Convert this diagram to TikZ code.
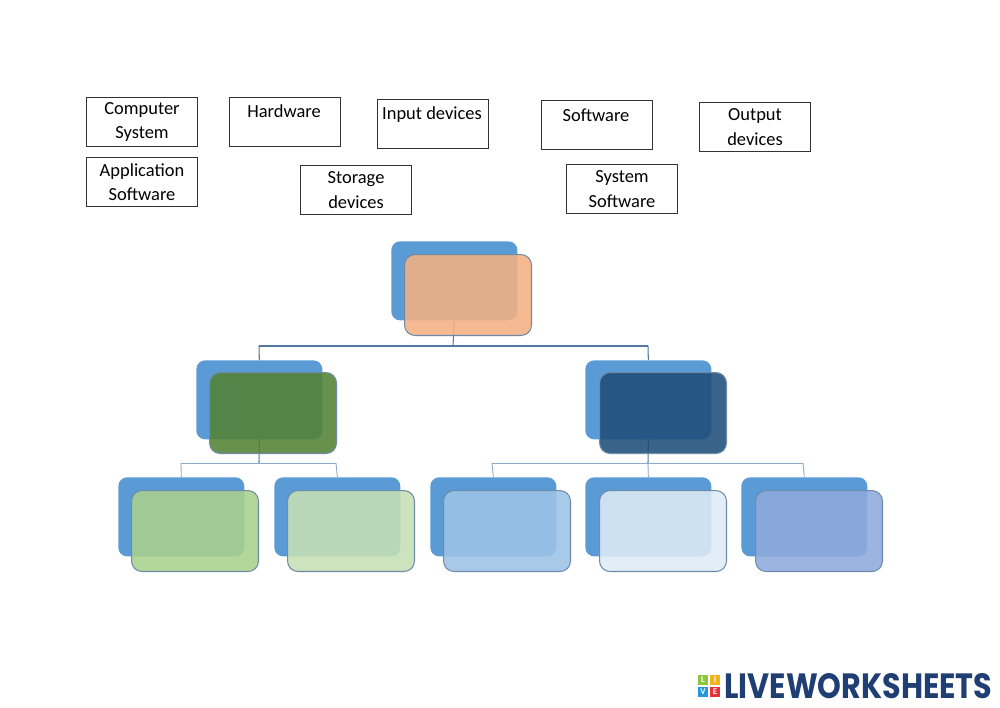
\documentclass[tikz,border=0pt]{standalone}
\usepackage{fontspec}
\usepackage{graphicx}
\setmainfont{Carlito}
\newfontfamily\logofont{Poppins}
\definecolor{backblue}{RGB}{91,155,213}
\definecolor{frame}{RGB}{110,140,170}
\definecolor{cline}{RGB}{80,120,160}
\definecolor{cline2}{RGB}{140,170,200}
\definecolor{c0}{RGB}{244,177,131}
\definecolor{c1}{RGB}{84,130,53}
\definecolor{c2}{RGB}{31,78,121}
\definecolor{c3}{RGB}{169,209,142}
\definecolor{c4}{RGB}{197,224,180}
\definecolor{c5}{RGB}{157,195,230}
\definecolor{c6}{RGB}{222,235,247}
\definecolor{c7}{RGB}{143,170,220}
\definecolor{lg}{RGB}{140,198,63}
\definecolor{ly}{RGB}{240,180,30}
\definecolor{lb}{RGB}{40,150,220}
\definecolor{lr}{RGB}{230,50,60}
\definecolor{logoblue}{RGB}{31,62,116}
\begin{document}
\begin{tikzpicture}[x=0.02cm,y=-0.02cm,
 lbl/.style={draw=black!80,line width=0.6pt,minimum width=2.22cm,minimum height=0.98cm,anchor=north west,inner sep=0pt,font=\fontsize{10.5}{14}\selectfont,align=center},
 back/.style={fill=backblue,rounded corners=5pt,anchor=north west,minimum width=2.52cm,minimum height=1.58cm,inner sep=0pt},
 front/.style={draw=frame,line width=0.6pt,rounded corners=6pt,anchor=north west,minimum width=2.54cm,minimum height=1.62cm,inner sep=0pt,fill opacity=0.88},
 conn/.style={draw=cline,line width=0.6pt},
 conn2/.style={draw=cline2,line width=0.5pt},
 lt/.style={font=\fontsize{5}{5}\selectfont\bfseries,text=white,inner sep=0pt}]
\useasboundingbox (0,0) rectangle (1000,707);
\fill[white] (0,0) rectangle (1000,707);
% labels
\node[lbl] (cs) at (86,97) {Computer\\System};
\node[lbl] (hw) at (229,97) {};
\node[lbl,anchor=north,minimum height=0pt,minimum width=0pt,draw=none] (hwt) at (284,104) {Hardware};
\node[lbl] (in) at (377,99) {};
\node[lbl,anchor=north,minimum height=0pt,minimum width=0pt,draw=none] (int) at (432,106) {Input devices};
\node[lbl] (sw) at (541,100) {};
\node[lbl,anchor=north,minimum height=0pt,minimum width=0pt,draw=none] (swt) at (596,108) {Software};
\node[lbl] (od) at (699,102) {Output\\devices};
\node[lbl] (as) at (86,157) {Application\\Software};
\node[lbl] (sd) at (300,165) {Storage\\devices};
\node[lbl] (ss) at (566,164) {System\\Software};
% hierarchy back boxes
\node[back] (b0) at (391,241) {};
\node[back] (b1) at (196,360) {};
\node[back] (b2) at (585,360) {};
\foreach \i/\x in {3/118,4/274,5/430,6/585,7/741}{\node[back] (b\i) at (\x,477) {};}
% connectors
\coordinate (h0) at (453,346);
\coordinate (hl) at (259,346);
\coordinate (hr) at (648,346);
\coordinate (l1) at (181,463);
\coordinate (l2) at (336,463);
\coordinate (lm) at (259,463);
\coordinate (r1) at (492,463);
\coordinate (r2) at (648,463);
\coordinate (r3) at (803,463);
\draw[conn] (b0.south) -- (h0);
\draw[conn] (hl) -- (hr);
\draw[conn] (hl) -- (b1.north);
\draw[conn] (hr) -- (b2.north);
\draw[conn] (b1.south) -- (lm);
\draw[conn2] (l1) -- (l2);
\draw[conn2] (l1) -- (b3.north);
\draw[conn2] (l2) -- (b4.north);
\draw[conn] (b2.south) -- (r2);
\draw[conn2] (r1) -- (r3);
\draw[conn2] (r1) -- (b5.north);
\draw[conn2] (r2) -- (b6.north);
\draw[conn2] (r3) -- (b7.north);
% front boxes
\node[front,fill=c0] (f0) at (404,254) {};
\node[front,fill=c1] (f1) at (209,372) {};
\node[front,fill=c2] (f2) at (599,372) {};
\node[front,fill=c3] (f3) at (131,490) {};
\node[front,fill=c4] (f4) at (287,490) {};
\node[front,fill=c5] (f5) at (443,490) {};
\node[front,fill=c6] (f6) at (599,490) {};
\node[front,fill=c7] (f7) at (755,490) {};
% logo
\fill[lg] (698,675) rectangle (708,685);
\fill[ly] (710,675) rectangle (720,685);
\fill[lb] (698,687) rectangle (708,697);
\fill[lr] (710,687) rectangle (720,697);
\node[lt] (ll) at (703,680) {L};
\node[lt] (li) at (715,680) {I};
\node[lt] (lv) at (703,692) {V};
\node[lt] (le) at (715,692) {E};
\node[anchor=west,inner sep=0pt,text=logoblue] (logo) at (724,686) {\resizebox{5.36cm}{0.5cm}{\logofont\bfseries LIVEWORKSHEETS}};
\end{tikzpicture}
\end{document}
